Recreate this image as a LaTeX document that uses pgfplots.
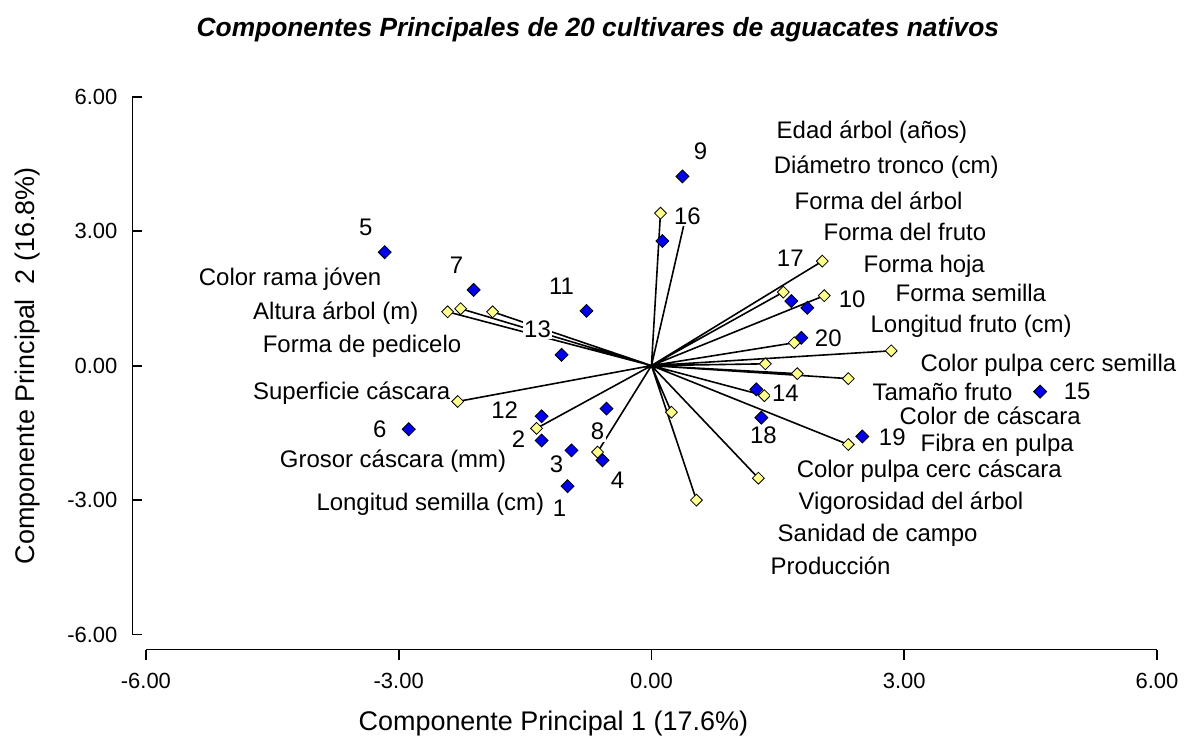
\documentclass[border=0pt]{standalone}
\usepackage{fontspec}
\setmainfont{Liberation Sans}
\usepackage{pgfplots}
\pgfplotsset{compat=1.18}
\usepackage{pgfplotstable}
\definecolor{ptblue}{RGB}{0,0,235}
\definecolor{ptyellow}{RGB}{255,255,140}

\pgfplotstableread{
x y lab
-0.996 -2.69 1
-1.304 -1.67 2
-0.949 -1.89 3
-0.581 -2.11 4
-3.166 2.53 5
-2.881 -1.42 6
-2.111 1.69 7
-0.534 -0.96 8
0.368 4.22 9
1.850 1.29 10
-0.771 1.22 11
-1.304 -1.13 12
-1.067 0.24 13
1.245 -0.53 14
4.613 -0.58 15
0.130 2.78 16
1.660 1.44 17
1.304 -1.16 18
2.502 -1.58 19
1.779 0.62 20
}\cultivars

\pgfplotstableread{
x y lab
-1.091 -3.18 1
-1.577 -1.64 2
-1.127 -2.20 3
-0.403 -2.56 4
-3.391 3.09 5
-3.225 -1.42 6
-2.312 2.24 7
-0.640 -1.47 8
0.581 4.78 9
2.383 1.47 10
-1.067 1.78 11
-1.743 -1.00 12
-1.352 0.82 13
1.589 -0.62 14
5.052 -0.58 15
0.427 3.33 16
1.648 2.40 17
1.328 -1.56 18
2.858 -1.60 19
2.099 0.60 20
}\cultlabels

\pgfplotstableread{
x y
-2.419 1.20
-2.265 1.27
-1.885 1.20
-2.300 -0.80
-1.364 -1.40
-0.640 -1.93
0.107 3.40
0.403 3.29
2.028 2.33
1.565 1.64
2.051 1.56
1.696 0.51
2.846 0.33
1.352 0.04
1.731 -0.18
2.336 -0.29
1.340 -0.67
0.237 -1.04
2.336 -1.76
1.269 -2.51
0.534 -3.00
}\varends

\pgfplotstableread{
x y
0 0
-2.419 1.20
nan nan
0 0
-2.265 1.27
nan nan
0 0
-1.885 1.20
nan nan
0 0
-2.300 -0.80
nan nan
0 0
-1.364 -1.40
nan nan
0 0
-0.640 -1.93
nan nan
0 0
0.107 3.40
nan nan
0 0
0.403 3.29
nan nan
0 0
2.028 2.33
nan nan
0 0
1.565 1.64
nan nan
0 0
2.051 1.56
nan nan
0 0
1.696 0.51
nan nan
0 0
2.846 0.33
nan nan
0 0
1.352 0.04
nan nan
0 0
1.731 -0.18
nan nan
0 0
2.336 -0.29
nan nan
0 0
1.340 -0.67
nan nan
0 0
0.237 -1.04
nan nan
0 0
2.336 -1.76
nan nan
0 0
1.269 -2.51
nan nan
0 0
0.534 -3.00
}\vectors

\pgfplotstableread[col sep=comma]{
x,y,lab
1.470,5.20,Edad árbol (años)
1.435,4.42,Diámetro tronco (cm)
1.684,3.67,Forma del árbol
2.028,2.98,Forma del fruto
2.502,2.22,Forma hoja
2.882,1.62,Forma semilla
2.585,0.87,Longitud fruto (cm)
3.178,0.00,Color pulpa cerc semilla
2.609,-0.58,Tamaño fruto
2.929,-1.11,Color de cáscara
3.178,-1.78,Fibra en pulpa
1.708,-2.36,Color pulpa cerc cáscara
1.731,-3.07,Vigorosidad del árbol
1.482,-3.78,Sanidad de campo
1.399,-4.47,Producción
}\rightlabels

\pgfplotstableread[col sep=comma]{
x,y,lab
-3.190,1.93,Color rama jóven
-2.751,1.16,Altura árbol (m)
-2.241,0.44,Forma de pedicelo
-2.372,-0.62,Superficie cáscara
-1.708,-2.13,Grosor cáscara (mm)
-1.257,-3.09,Longitud semilla (cm)
}\leftlabels

\begin{document}
\begin{tikzpicture}
\begin{axis}[
  scale only axis,
  width=506.5pt, height=269.5pt,
  xmin=-6, xmax=6, ymin=-6, ymax=6,
  clip=false,
  axis x line=bottom, axis y line=left,
  axis x line shift=7.5pt, axis y line shift=6.75pt,
  axis line style={-, line width=0.9pt, black},
  xtick={-6,-3,0,3,6}, ytick={-6,-3,0,3,6},
  xticklabels={-6.00,-3.00,0.00,3.00,6.00},
  yticklabels={-6.00,-3.00,0.00,3.00,6.00},
  tick align=inside,
  major tick length=5pt,
  tick style={line width=0.9pt, black},
  major x tick style={yshift=-5pt},
  tick label style={font=\fontsize{11}{13}\selectfont},
  xticklabel style={yshift=-8.5pt},
  yticklabel style={xshift=-4pt},
  title={Componentes Principales de 20 cultivares de aguacates nativos},
  title style={font=\fontsize{13.2}{16}\selectfont\bfseries\itshape, at={(axis description cs:0.447,1.102)}, anchor=center},
  xlabel={Componente Principal 1 (17.6\%)},
  xlabel style={font=\fontsize{13.5}{16}\selectfont, at={(axis description cs:0.403,-0.165)}, anchor=center},
  ylabel={Componente Principal\ \ 2 (16.8\%)},
  ylabel style={font=\fontsize{13.5}{16}\selectfont, at={(axis description cs:-0.117,0.5)}, anchor=center},
]
% bounding box of the whole picture
\path (axis cs:-7.732,-8.333) rectangle (axis cs:6.320,8.156);

\addplot[black, line width=0.8pt, mark=none, unbounded coords=jump] table[x=x,y=y] {\vectors};

\addplot[only marks, mark=square*, mark size=2.3pt,
  mark options={rotate=45, fill=ptblue, draw=black, line width=0.4pt}] table[x=x,y=y] {\cultivars};

\addplot[only marks, mark=square*, mark size=2.1pt,
  mark options={rotate=45, fill=ptyellow, draw=black, line width=0.4pt}] table[x=x,y=y] {\varends};

\addplot[draw=none, mark=none, nodes near coords, point meta=explicit symbolic,
  nodes near coords style={anchor=center, fill=white, inner sep=0.8pt, font=\fontsize{12}{14}\selectfont}]
  table[x=x,y=y,meta=lab] {\cultlabels};

\addplot[draw=none, mark=none, nodes near coords, point meta=explicit symbolic,
  nodes near coords style={anchor=west, fill=white, inner sep=0.5pt, font=\fontsize{12}{14}\selectfont}]
  table[x=x,y=y,meta=lab] {\rightlabels};

\addplot[draw=none, mark=none, nodes near coords, point meta=explicit symbolic,
  nodes near coords style={anchor=east, fill=white, inner sep=0.5pt, font=\fontsize{12}{14}\selectfont}]
  table[x=x,y=y,meta=lab] {\leftlabels};
\end{axis}
\end{tikzpicture}
\end{document}
